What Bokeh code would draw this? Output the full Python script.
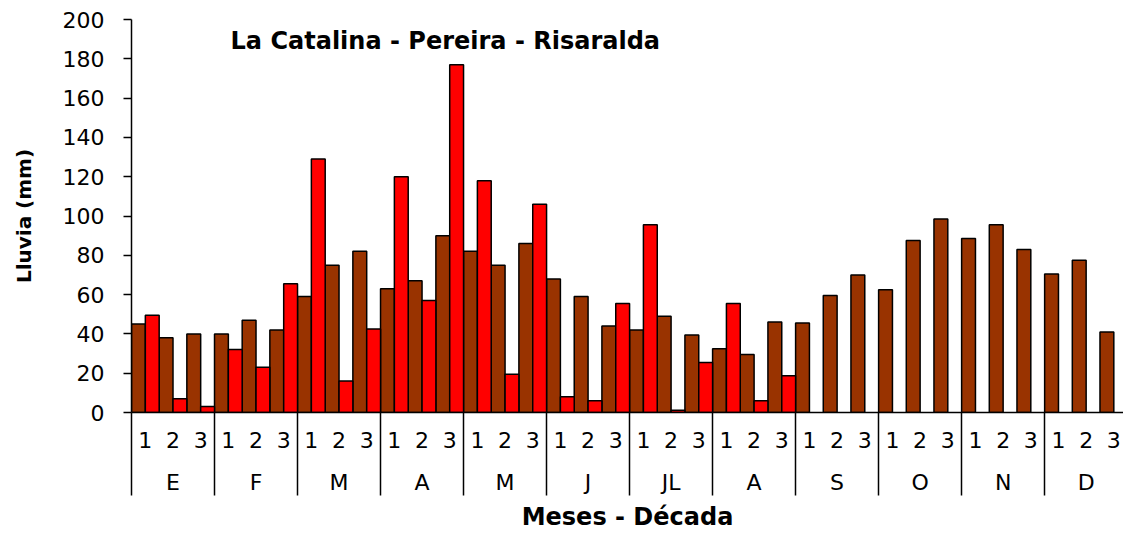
from bokeh.plotting import figure
from bokeh.models import Range1d, LinearAxis, FixedTicker, Label, ColumnDataSource
from bokeh.embed import file_html
from bokeh.resources import INLINE

# ---- data ----
months = ["E", "F", "M", "A", "M", "J", "JL", "A", "S", "O", "N", "D"]
decades = ["1", "2", "3"]
# brown series (one value per decade)
lluvia_serie1 = [45, 38, 40, 40, 47, 42, 59, 75, 82, 63, 67, 90,
                 82, 75, 86, 68, 59, 44, 42, 49, 39.5, 32.5, 29.5, 46,
                 45.5, 59.5, 70, 62.5, 87.5, 98.5, 88.5, 95.5, 83, 70.5, 77.5, 41]
# red series (no data from September on)
lluvia_serie2 = [49.5, 7, 3, 32, 23, 65.5, 129, 16, 42.5, 120, 57, 177,
                 118, 19.5, 106, 8, 6, 55.5, 95.5, 1.2, 25.5, 55.5, 6, 18.7,
                 None, None, None, None, None, None, None, None, None, None, None, None]
y_ticks = [0, 20, 40, 60, 80, 100, 120, 140, 160, 180, 200]

FONT = "DejaVu Sans"
BROWN = "#993300"
RED = "#FF0000"

n = len(lluvia_serie1)
p = figure(width=1123, height=533,
           x_range=Range1d(0, 35.85), y_range=Range1d(0, 200),
           output_backend="svg", toolbar_location=None,
           x_axis_type=None,
           min_border_left=131, min_border_top=19, min_border_right=0, min_border_bottom=121)
p.outline_line_color = None
p.xgrid.visible = False
p.ygrid.visible = False
p.background_fill_color = "white"
p.border_fill_color = "white"

src1 = ColumnDataSource(dict(x=[i + 0.25 for i in range(n)], top=lluvia_serie1))
x2 = [i + 0.75 for i in range(n) if lluvia_serie2[i] is not None]
t2 = [v for v in lluvia_serie2 if v is not None]
src2 = ColumnDataSource(dict(x=x2, top=t2))

p.vbar(x="x", top="top", width=0.5, bottom=0, source=src1,
       fill_color=BROWN, line_color="black", line_width=1.5)
p.vbar(x="x", top="top", width=0.5, bottom=0, source=src2,
       fill_color=RED, line_color="black", line_width=1.5)

# y axis
ya = p.yaxis[0]
ya.ticker = FixedTicker(ticks=y_ticks, minor_ticks=[])
ya.axis_line_color = "black"
ya.axis_line_width = 1.5
ya.major_tick_line_color = "black"
ya.major_tick_line_width = 1.5
ya.major_tick_in = 0
ya.major_tick_out = 8
ya.minor_tick_line_color = None
ya.major_label_text_font = FONT
ya.major_label_text_font_size = "22px"
ya.major_label_text_color = "black"
ya.major_label_standoff = 19
ya.axis_label = "Lluvia (mm)"
ya.axis_label_text_font = FONT
ya.axis_label_text_font_style = "bold"
ya.axis_label_text_font_size = "20px"
ya.axis_label_text_color = "black"
ya.axis_label_standoff = 24

# x axis level 1: decades + month separators
dec_ticks = [i + 0.5 for i in range(n)]
sep_ticks = [3 * k for k in range(len(months) + 1)]
xa1 = LinearAxis(ticker=FixedTicker(ticks=dec_ticks, minor_ticks=sep_ticks))
xa1.major_label_overrides = {i + 0.5: decades[i % 3] for i in range(n)}
xa1.axis_line_color = "black"
xa1.axis_line_width = 1.5
xa1.major_tick_line_color = None
xa1.major_tick_in = 0
xa1.major_tick_out = 0
xa1.minor_tick_line_color = "black"
xa1.minor_tick_line_width = 1.5
xa1.minor_tick_in = 0
xa1.minor_tick_out = 83
xa1.major_label_text_font = FONT
xa1.major_label_text_font_size = "22px"
xa1.major_label_text_color = "black"
xa1.major_label_standoff = -64
p.add_layout(xa1, "below")

# x axis level 2: months
mon_ticks = [3 * k + 1.5 for k in range(len(months))]
xa2 = LinearAxis(ticker=FixedTicker(ticks=mon_ticks, minor_ticks=[]))
xa2.major_label_overrides = {3 * k + 1.5: months[k] for k in range(len(months))}
xa2.axis_line_color = None
xa2.major_tick_line_color = None
xa2.minor_tick_line_color = None
xa2.major_tick_in = 0
xa2.major_tick_out = 0
xa2.major_label_text_font = FONT
xa2.major_label_text_font_size = "22px"
xa2.major_label_text_color = "black"
xa2.major_label_standoff = 19
xa2.axis_label = "Meses - Década"
xa2.axis_label_text_font = FONT
xa2.axis_label_text_font_style = "bold"
xa2.axis_label_text_font_size = "24px"
xa2.axis_label_text_color = "black"
xa2.axis_label_standoff = 5
p.add_layout(xa2, "below")

title = Label(x=3.58, y=189.3, text="La Catalina - Pereira - Risaralda",
              text_font=FONT, text_font_style="bold", text_font_size="24px",
              text_color="black", text_baseline="alphabetic", text_align="left")
p.add_layout(title)

open("out.html", "w").write(file_html(p, INLINE))
